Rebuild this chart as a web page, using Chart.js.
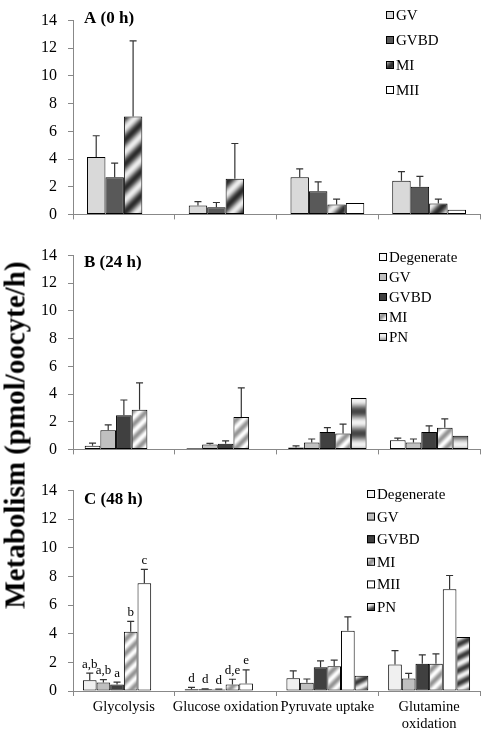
<!DOCTYPE html>
<html>
<head>
<meta charset="utf-8">
<script src="https://cdn.jsdelivr.net/npm/chart.js@4.4.0/dist/chart.umd.min.js"></script>
<style>
body { margin: 0; background: #fff; }
#wrap { position: relative; width: 489px; height: 734px; }
canvas { position: absolute; left: 0; }
#ytitle {
    position: absolute; left: 15px; top: 435px;
    transform: translate(-50%, -50%) rotate(-90deg);
    font: bold 29px "Liberation Serif", serif; white-space: nowrap; color: #000;
}
</style>
</head>
<body>
<div id="wrap">
<canvas id="chartA" width="489" height="235" style="top:0"></canvas>
<canvas id="chartB" width="489" height="235" style="top:235px"></canvas>
<canvas id="chartC" width="489" height="264" style="top:470px"></canvas>
<div id="ytitle">Metabolism (pmol/oocyte/h)</div>
</div>
<script>
let categories = ['Glycolysis', 'Glucose oxidation', 'Pyruvate uptake', ['Glutamine', 'oxidation']];
let yTicks = [0, 2, 4, 6, 8, 10, 12, 14];

// A (0 h)
let gvA = [4.15, 0.65, 2.68, 2.43];
let gvA_sd = [1.53, 0.28, 0.61, 0.66];
let gvbdA = [2.68, 0.52, 1.67, 2.0];
let gvbdA_sd = [1.02, 0.34, 0.68, 0.75];
let miA = [7.08, 2.57, 0.72, 0.79];
let miA_sd = [5.45, 2.55, 0.38, 0.31];
let miiA = [null, null, 0.83, 0.34];

// B (24 h)
let degB = [0.27, 0.09, 0.14, 0.66];
let degB_sd = [0.19, null, 0.11, 0.16];
let gvB = [1.39, 0.36, 0.5, 0.5];
let gvB_sd = [0.38, 0.07, 0.25, 0.25];
let gvbdB = [2.46, 0.41, 1.25, 1.25];
let gvbdB_sd = [1.11, 0.2, 0.32, 0.45];
let miB = [2.87, 2.34, 1.14, 1.57];
let miB_sd = [1.93, 2.11, 0.68, 0.63];
let pnB = [null, null, 3.71, 0.98];

// C (48 h)
let degC = [0.75, 0.12, 0.89, 1.86];
let degC_sd = [0.5, 0.13, 0.52, 0.96];
let gvC = [0.6, 0.12, 0.57, 0.87];
let gvC_sd = [0.2, 0.03, 0.27, 0.36];
let gvbdC = [0.46, 0.1, 1.66, 1.91];
let gvbdC_sd = [0.16, 0.03, 0.45, 0.61];
let miC = [4.14, 0.46, 1.73, 1.91];
let miC_sd = [0.72, 0.36, 0.43, 0.68];
let miiC = [7.52, 0.52, 4.21, 7.11];
let miiC_sd = [0.98, 0.96, 0.97, 0.96];
let pnC = [null, null, 1.07, 3.77];

let degC_letters = ['a,b', 'd', '', ''];
let gvC_letters = ['a,b', 'd', '', ''];
let gvbdC_letters = ['a', 'd', '', ''];
let miC_letters = ['b', 'd,e', '', ''];
let miiC_letters = ['c', 'e', '', ''];

Chart.defaults.font.family = '"Liberation Serif", serif';
Chart.defaults.color = '#000';

// shaded fills like the excel picture fills
function shade(period, dark, light, fn) {
    let c = document.createElement('canvas');
    c.width = period; c.height = period;
    let g = c.getContext('2d');
    let img = g.createImageData(period, period);
    for (let y = 0; y < period; y++) {
        for (let x = 0; x < period; x++) {
            let u = fn(x, y) % period;
            let t = 0.5 - 0.5 * Math.cos(2 * Math.PI * u / period);
            let k = (y * period + x) * 4;
            for (let ch = 0; ch < 3; ch++) img.data[k + ch] = dark[ch] + (light[ch] - dark[ch]) * t;
            img.data[k + 3] = 255;
        }
    }
    g.putImageData(img, 0, 0);
    return g.createPattern(c, 'repeat');
}
let miDarkFill = shade(24, [45, 45, 45], [235, 235, 235], (x, y) => x + y);
let miLightFill = shade(14, [150, 150, 150], [252, 252, 252], (x, y) => x + y);
let pnFillB = shade(22, [70, 70, 70], [240, 240, 240], (x, y) => y);
let pnFillC = shade(26, [60, 60, 60], [240, 240, 240], (x, y) => x + 2 * y);

const errorBars = {
    id: 'errorBars',
    afterDatasetsDraw(chart) {
        let ctx = chart.ctx;
        let yScale = chart.scales.y;
        chart.data.datasets.forEach((ds, i) => {
            if (!ds.sd) return;
            let meta = chart.getDatasetMeta(i);
            meta.data.forEach((bar, j) => {
                let v = ds.data[j], s = ds.sd[j];
                if (v == null || s == null) return;
                let top = yScale.getPixelForValue(v + s);
                ctx.save();
                ctx.strokeStyle = '#333';
                ctx.lineWidth = 1.2;
                ctx.beginPath();
                ctx.moveTo(bar.x, bar.y);
                ctx.lineTo(bar.x, top);
                ctx.moveTo(bar.x - 3.5, top);
                ctx.lineTo(bar.x + 3.5, top);
                ctx.stroke();
                if (ds.letters && ds.letters[j]) {
                    ctx.fillStyle = '#000';
                    ctx.font = '13px "Liberation Serif", serif';
                    ctx.textAlign = 'center';
                    ctx.textBaseline = 'middle';
                    ctx.fillText(ds.letters[j], bar.x, top - 9);
                }
                ctx.restore();
            });
        });
    }
};

const boxLegend = {
    id: 'boxLegend',
    afterDraw(chart, args, opts) {
        let ctx = chart.ctx;
        ctx.save();
        ctx.font = opts.font;
        ctx.textBaseline = 'middle';
        ctx.textAlign = 'left';
        chart.data.datasets.forEach((ds, i) => {
            let y = opts.y + i * opts.step;
            ctx.fillStyle = ds.backgroundColor;
            ctx.fillRect(opts.x, y - 4, 8, 8);
            ctx.strokeStyle = '#000';
            ctx.lineWidth = 1;
            ctx.strokeRect(opts.x + 0.5, y - 3.5, 7, 7);
            ctx.fillStyle = '#000';
            ctx.fillText(ds.label, opts.x + 10, y + 1);
        });
        // panel title
        ctx.font = 'bold 17px "Liberation Serif", serif';
        ctx.fillText(opts.title, chart.chartArea.left + 11, chart.chartArea.top + opts.titleDy);
        ctx.restore();
    }
};

function bars(label, data, fill, sd, letters) {
    return {
        label: label, data: data, sd: sd, letters: letters,
        backgroundColor: fill, borderColor: '#000', borderWidth: 1, borderSkipped: false
    };
}

function makeChart(id, datasets, catPct, xHeight, showLabels, legendOpts) {
    return new Chart(document.getElementById(id), {
        type: 'bar',
        data: { labels: categories, datasets: datasets },
        options: {
            responsive: false,
            animation: false,
            layout: { padding: { left: 0, right: 9, top: 16, bottom: 0 } },
            datasets: { bar: { categoryPercentage: catPct, barPercentage: 1 } },
            plugins: { legend: { display: false }, tooltip: { enabled: false }, boxLegend: legendOpts },
            scales: {
                x: {
                    offset: true,
                    grid: { display: true, offset: true, drawOnChartArea: false, drawTicks: true, tickLength: 5, color: '#888' },
                    border: { color: '#888' },
                    ticks: { display: showLabels, maxRotation: 0, autoSkip: false, padding: 2, font: { size: 14.5 } },
                    afterFit: s => { s.height = xHeight; }
                },
                y: {
                    min: 0, max: 14,
                    afterBuildTicks: s => { s.ticks = yTicks.map(v => ({ value: v })); },
                    grid: { drawOnChartArea: false, drawTicks: true, tickLength: 5, color: '#888' },
                    border: { color: '#888' },
                    ticks: { padding: 11, font: { size: 16 } },
                    afterFit: s => { s.width = 73; }
                }
            }
        },
        plugins: [errorBars, boxLegend]
    });
}

makeChart('chartA', [
    bars('GV', gvA, '#d9d9d9', gvA_sd),
    bars('GVBD', gvbdA, '#595959', gvbdA_sd),
    bars('MI', miA, miDarkFill, miA_sd),
    bars('MII', miiA, '#ffffff', null)
], 0.725, 12, false, { x: 386, y: 15, step: 25, font: '15px "Liberation Serif", serif', title: 'A (0 h)', titleDy: -2 });

makeChart('chartB', [
    bars('Degenerate', degB, '#fafafa', degB_sd),
    bars('GV', gvB, '#c0c0c0', gvB_sd),
    bars('GVBD', gvbdB, '#404040', gvbdB_sd),
    bars('MI', miB, miLightFill, miB_sd),
    bars('PN', pnB, pnFillB, null)
], 0.77, 14, false, { x: 379, y: 22, step: 20, font: '15px "Liberation Serif", serif', title: 'B (24 h)', titleDy: 7.5 });

makeChart('chartC', [
    bars('Degenerate', degC, '#f0f0f0', degC_sd, degC_letters),
    bars('GV', gvC, '#bfbfbf', gvC_sd, gvC_letters),
    bars('GVBD', gvbdC, '#404040', gvbdC_sd, gvbdC_letters),
    bars('MI', miC, miLightFill, miC_sd, miC_letters),
    bars('MII', miiC, '#ffffff', miiC_sd, miiC_letters),
    bars('PN', pnC, pnFillC, null)
], 0.805, 43, true, { x: 367, y: 24, step: 22.6, font: '15px "Liberation Serif", serif', title: 'C (48 h)', titleDy: 9 });
</script>
</body>
</html>
